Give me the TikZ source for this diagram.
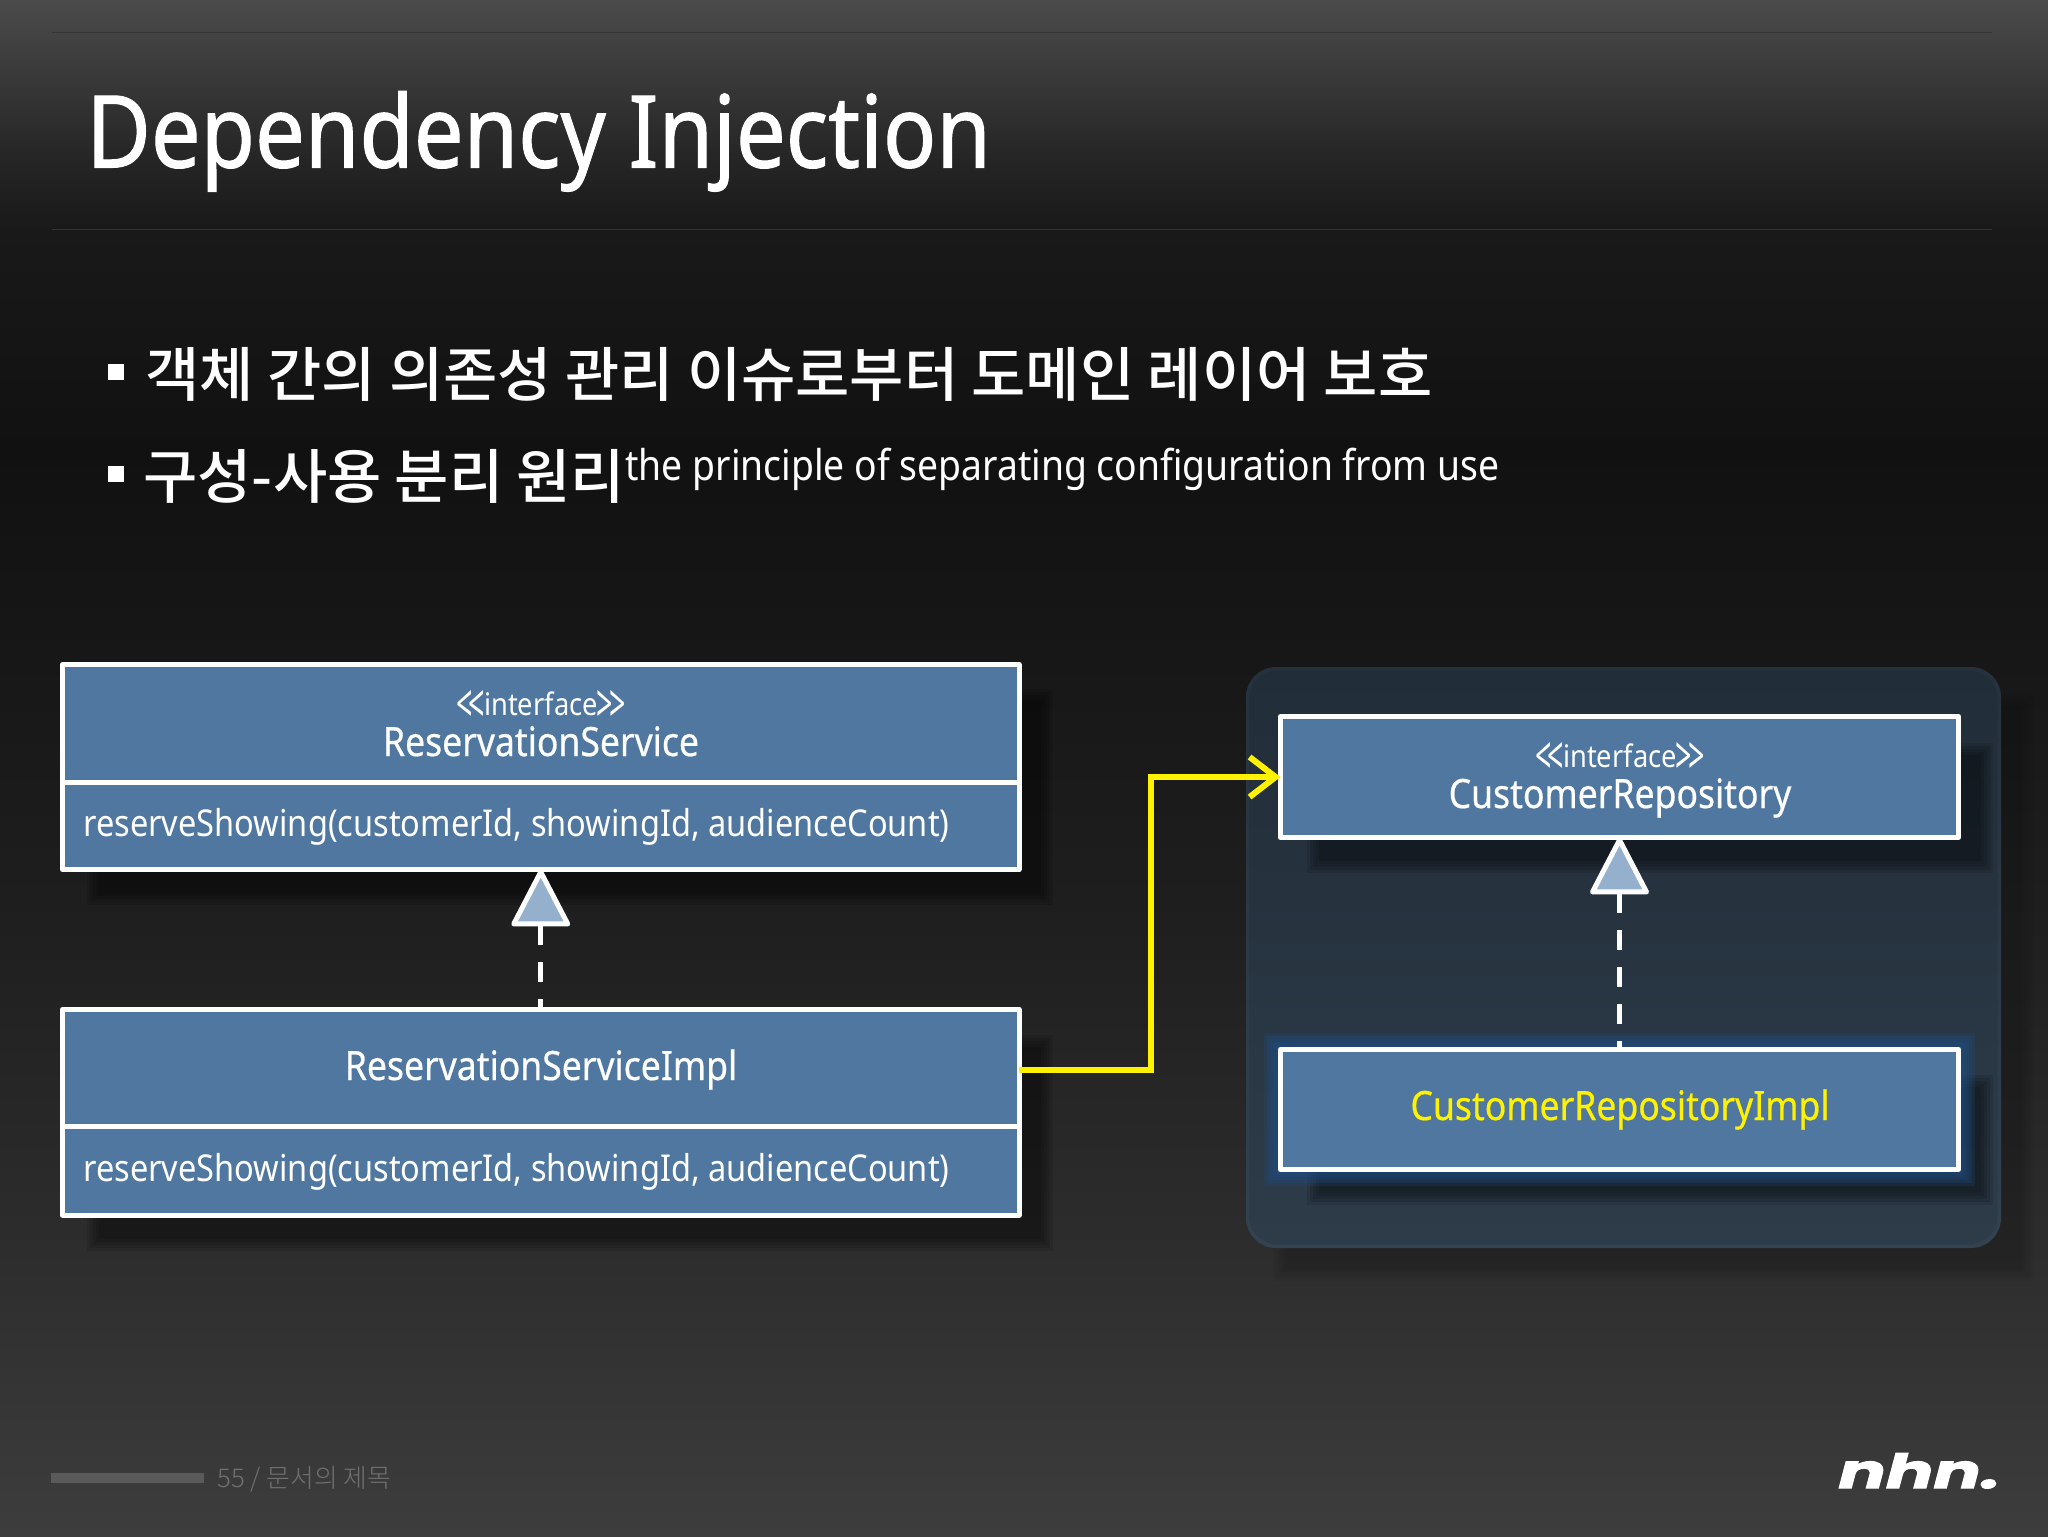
\documentclass[tikz,border=0pt]{standalone}
\usepackage{fontspec}
\setmainfont{Noto Sans}[FakeStretch=0.88]
\newfontfamily\semib{Noto Sans}[FakeStretch=0.88,FakeBold=0.5]
\newfontfamily\titlef{Noto Sans}[FakeStretch=0.88,FakeBold=1]
\newfontfamily\kor{Noto Sans CJK KR}[BoldFont=* Medium]
\newfontfamily\korlight{Noto Sans CJK KR}[UprightFont=* Light]
\newfontfamily\logofont{Poppins}[FakeStretch=1.5,FakeBold=2.5]
\usetikzlibrary{arrows.meta,calc}
\definecolor{boxblue}{HTML}{4F77A0}
\definecolor{trifill}{HTML}{94B0CC}
\definecolor{rulec}{HTML}{333333}
\definecolor{footc}{HTML}{707070}
\definecolor{barc}{HTML}{5A5A5A}
\definecolor{glowc}{HTML}{1F4F85}
\definecolor{contop}{HTML}{212D38}
\definecolor{conbot}{HTML}{2E3C4A}
\definecolor{edgetop}{HTML}{25323E}
\definecolor{edgebot}{HTML}{324250}
\definecolor{bgA}{HTML}{4B4B4B}
\definecolor{bgB}{HTML}{272727}
\definecolor{bgC}{HTML}{191919}
\definecolor{bgD}{HTML}{111111}
\definecolor{bgE}{HTML}{1E1E1E}
\definecolor{bgF}{HTML}{2E2D2E}
\definecolor{bgG}{HTML}{3E3D3E}
\newcommand{\ltt}{\raisebox{-3.5pt}{\scalebox{1.05}[1.7]{<}}}
\newcommand{\gtt}{\raisebox{-3.5pt}{\scalebox{1.05}[1.7]{>}}}
\newcommand{\stereotext}{\smash{\ltt\kern-.12em\ltt\kern-.03em interface\kern-.03em\gtt\kern-.12em\gtt}}
\tikzset{
  x=0.5pt,y=-0.5pt,
  umlbox/.style={draw=white,fill=boxblue,line width=2.5pt,rectangle,outer sep=0pt,inner sep=0pt,line join=round},
  realize/.style={draw=white,line width=2.5pt,dash pattern=on 10pt off 8.5pt,
    {Triangle[length=30pt,width=30.5pt,fill=trifill,line width=2.5pt,round]}-},
  uses/.style={draw=yellow,line width=3pt,line join=miter,-{Straight Barb[length=13pt,width=20pt,line width=3pt]}},
  lab/.style={text=white,inner sep=0pt,anchor=base},
  stereo/.style={lab,font=\fontsize{15.5}{18}\selectfont},
  cname/.style={lab,font=\semib\fontsize{20.2}{23}\selectfont},
  method/.style={lab,anchor=base west,font=\fontsize{18.5}{21}\selectfont},
  bullet/.style={fill=white,rectangle,inner sep=0pt,minimum size=8pt,outer sep=0pt},
  kline/.style={text=white,inner sep=0pt,anchor=west,font=\kor\bfseries\fontsize{29.5}{34}\selectfont},
}
\newcommand{\softshadow}[5]{% x1 y1 x2 y2 opacity
  \foreach \g in {-9,-6,-3,0,3}{\fill[black,opacity=#5] (#1-\g,#2-\g) rectangle (#3+\g,#4+\g);}}
\newcommand{\umlrect}[5]{% name x1 y1 x2 y2
  \node[umlbox,minimum width={(#4-#2)*0.5pt},minimum height={(#5-#3)*0.5pt}] (#1) at ({(#2+#4)/2},{(#3+#5)/2}) {};}
\begin{document}
\begin{tikzpicture}
\useasboundingbox (0,0) rectangle (2048,1536);
% background
\shade[top color=bgA,bottom color=bgB] (0,0) rectangle (2048,150.5);
\shade[top color=bgB,bottom color=bgC] (0,150) rectangle (2048,230.5);
\shade[top color=bgC,bottom color=bgD] (0,230) rectangle (2048,450.5);
\shade[top color=bgD,bottom color=bgE] (0,450) rectangle (2048,900.5);
\shade[top color=bgE,bottom color=bgF] (0,900) rectangle (2048,1250.5);
\shade[top color=bgF,bottom color=bgG] (0,1250) rectangle (2048,1536);
% rules
\draw[rulec,line width=0.5pt] (52,33) -- (1992,33);
\draw[rulec,line width=0.5pt] (52,229) -- (1992,229);
% title
\node[text=white,inner sep=0pt,anchor=base west,font=\titlef\fontsize{50.2}{56}\selectfont] (title) at (86,167.5) {Dependency Injection};
% bullets
\node[bullet] (bu1) at (116,372) {};
\node[bullet] (bu2) at (116,474) {};
\node[kline] (k1) at (145,375) {객체 간의 의존성 관리 이슈로부터 도메인 레이어 보호};
\node[kline] (k2) at (143,476) {구성-사용 분리 원리};
\node[text=white,inner sep=0pt,anchor=base west,font=\fontsize{21.2}{24}\selectfont] (en) at (625,480) {the principle of separating configuration from use};
% shadows
\softshadow{90}{692}{1050}{902}{0.10}
\softshadow{90}{1038}{1050}{1248}{0.10}
\softshadow{1276}{697}{2031}{1278}{0.03}
\node[top color=edgetop,bottom color=edgebot,rounded corners=15pt,minimum width=377.5pt,minimum height=290.5pt,inner sep=0pt,outer sep=0pt] (edge) at (1623.5,957.5) {};
\node[top color=contop,bottom color=conbot,rounded corners=14pt,minimum width=374pt,minimum height=287pt,inner sep=0pt,outer sep=0pt] (container) at (1623.5,957.5) {};
\softshadow{1310}{746}{1990}{870}{0.10}
\softshadow{1310}{1078}{1990}{1202}{0.10}
\foreach \g in {14,11,8,5,2}{\fill[glowc,opacity=.22] (1278-\g,1047-\g) rectangle (1961+\g,1172+\g);}
% boxes
\umlrect{b1h}{62.5}{664.5}{1019}{782}
\umlrect{b1m}{62.5}{782}{1019}{869.5}
\umlrect{b2h}{62.5}{1009.5}{1019}{1126}
\umlrect{b2m}{62.5}{1126}{1019}{1215}
\umlrect{b3}{1280.5}{716.5}{1958.5}{837.5}
\umlrect{b4}{1280.5}{1049.5}{1958.5}{1169.5}
% labels
\node[stereo] (s1) at (541,715) {\stereotext};
\node[cname] (n1) at (541,756) {ReservationService};
\node[method] (m1) at (83,836) {reserveShowing(customerId, showingId, audienceCount)};
\node[cname] (n2) at (541,1080) {ReservationServiceImpl};
\node[method] (m2) at (83,1181) {reserveShowing(customerId, showingId, audienceCount)};
\node[stereo] (s3) at (1620,767) {\stereotext};
\node[cname] (n3) at (1620,808) {CustomerRepository};
\node[cname,text=yellow] (n4) at (1620,1120) {CustomerRepositoryImpl};
% connectors
\draw[realize] (b1m.south) -- (b2h.north);
\draw[realize] (b3.south) -- (b4.north);
\draw[uses] ([yshift=-1.25pt]b2h.east) -- ++(132,0) |- (b3.west);
% footer
\node[fill=barc,minimum width=76.5pt,minimum height=5pt,inner sep=0pt,outer sep=0pt] (bar) at (127.5,1478) {};
\node[text=footc,inner sep=0pt,anchor=west,font=\korlight\fontsize{12.9}{15}\selectfont] (foot) at (217,1479.5) {55 / 문서의 제목};
\node[text=white,inner sep=0pt,anchor=base west,font=\logofont\bfseries\itshape\fontsize{23.5}{28}\selectfont] (logo) at (1838,1488) {nhn.};
\end{tikzpicture}
\end{document}
